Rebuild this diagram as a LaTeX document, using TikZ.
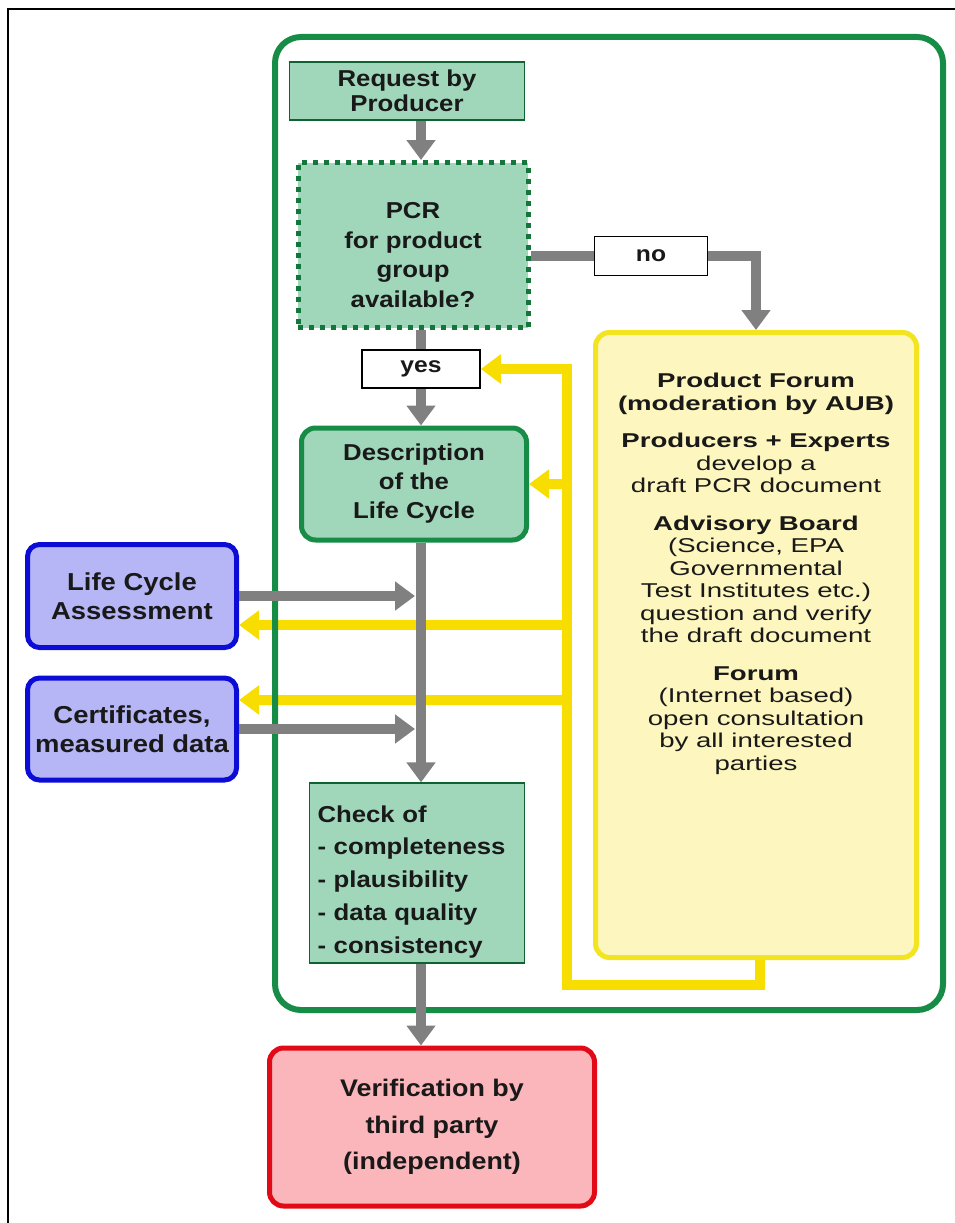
\documentclass[tikz,border=0pt]{standalone}
\usepackage{fontspec}
\setmainfont{Liberation Sans}
\newfontfamily\boxsans[FakeStretch=1.12]{Liberation Sans}
\newfontfamily\widesans[FakeStretch=1.38]{Liberation Sans}
\usetikzlibrary{arrows.meta, positioning}

\definecolor{frameGreen}{RGB}{22,140,70}
\definecolor{boxGreen}{RGB}{160,215,186}
\definecolor{lineGray}{RGB}{128,128,128}
\definecolor{lineYellow}{RGB}{248,222,0}
\definecolor{forumFill}{RGB}{253,246,190}
\definecolor{forumLine}{RGB}{242,228,30}
\definecolor{lcaBlue}{RGB}{12,12,215}
\definecolor{lcaFill}{RGB}{182,182,246}
\definecolor{verRed}{RGB}{226,10,22}
\definecolor{verFill}{RGB}{250,182,186}
\definecolor{inkText}{RGB}{25,25,25}

\tikzset{
  every node/.style={text=inkText, inner sep=0pt},
  flatbox/.style={draw=frameGreen!70!black, line width=1.2pt, fill=boxGreen, align=center,
    font=\boxsans\bfseries\fontsize{23}{25}\selectfont},
  dotbox/.style={flatbox, draw=frameGreen!85!black, line width=5pt, dash pattern=on 5pt off 6pt,
    font=\boxsans\bfseries\fontsize{23}{29.5}\selectfont},
  answer/.style={draw=black, line width=1.5pt, fill=white, font=\boxsans\bfseries\fontsize{22}{24}\selectfont},
  roundgreen/.style={flatbox, draw=frameGreen, line width=5pt, rounded corners=14pt,
    font=\boxsans\bfseries\fontsize{23}{29}\selectfont},
  inputbox/.style={draw=lcaBlue, line width=5pt, rounded corners=12pt, fill=lcaFill, align=center,
    minimum width=209pt, font=\boxsans\bfseries\fontsize{24.5}{28.5}\selectfont},
  verbox/.style={draw=verRed, line width=5pt, rounded corners=14pt, fill=verFill, align=center,
    font=\boxsans\bfseries\fontsize{24}{36.5}\selectfont},
  forumbox/.style={draw=forumLine, line width=5pt, rounded corners=14pt, fill=forumFill},
  forumtext/.style={align=center, font=\widesans\fontsize{20}{22.5}\selectfont},
  grayline/.style={draw=lineGray, line width=10pt},
  grayarrow/.style={grayline, -{Triangle[width=28pt,length=20pt]}},
  yelline/.style={draw=lineYellow, line width=10pt},
  yelarrow/.style={yelline, -{Triangle[width=28pt,length=20pt]}}
}

\begin{document}
\begin{tikzpicture}[x=1pt, y=-1pt]
\useasboundingbox (0,0) rectangle (955,1223);

% thin frame of the sheet (top and left only)
\draw[line width=1.5pt] (8,1223) -- (8,9) -- (955,9);

% main column
\node[flatbox, minimum width=235pt, minimum height=58pt] (req) at (407,91) {Request by\\Producer};
\node[dotbox, minimum width=230pt, minimum height=165pt] (pcr) at (413,245)
  {\rule{0pt}{36pt}PCR\\for product\\group\\available?};
\node[answer, minimum width=113pt, minimum height=39pt] (no) at (651,256) {no};
\node[answer, minimum width=118pt, minimum height=38pt] (yes) at (421,369) {yes};
\node[roundgreen, minimum width=225pt, minimum height=112pt] (desc) at (414,484) {Description\\of the\\Life Cycle};
\node[flatbox, minimum width=215pt, minimum height=180pt, text width=199pt, align=left,
  font=\boxsans\bfseries\fontsize{23}{32.7}\selectfont] (check) at (417,873)
  {\rule{0pt}{34pt}Check of\\- completeness\\- plausibility\\- data quality\\- consistency};
\node[verbox, minimum width=325pt, minimum height=158pt] (verif) at (432,1127) {Verification by\\third party\\(independent)};

% inputs on the left
\node[inputbox, minimum height=103pt] (lca) at (132,596) {Life Cycle\\Assessment};
\node[inputbox, minimum height=102pt] (cert) at (132,729) {Certificates,\\measured data};

% product forum
\node[forumbox, minimum width=321pt, minimum height=625pt] (forum) at (756,645) {};
\node[forumtext, below=43pt of forum.north] (forumtxt) {%
  \textbf{Product Forum}\\
  \textbf{(moderation by AUB)}\\[15pt]
  \textbf{Producers + Experts}\\
  develop a\\
  draft PCR document\\[15pt]
  \textbf{Advisory Board}\\
  (Science, EPA\\
  Governmental\\
  Test Institutes etc.)\\
  question and verify\\
  the draft document\\[15pt]
  \textbf{Forum}\\
  (Internet based)\\
  open consultation\\
  by all interested\\
  parties};

\coordinate (col) at (421,0);
\coordinate (busbot) at (567,985);
\path ([yshift=-29pt]lca.east) coordinate (lcaIn);
\path ([yshift=29pt]cert.east) coordinate (certIn);

% feedback from the forum
\draw[yelarrow] ([xshift=4pt]forum.south) |- (busbot) |- (yes.east);
\draw[yelarrow] (busbot |- desc.east) -- (desc.east);
\draw[yelarrow] (busbot |- lcaIn) -- (lcaIn);
\draw[yelarrow] (busbot |- certIn) -- (certIn);

% programme frame
\draw[frameGreen, line width=6pt, rounded corners=26pt] (275,37) rectangle (943,1010);

% main flow
\draw[grayarrow] (req.south -| col) -- (pcr.north -| col);
\draw[grayline] (pcr.south -| col) -- (yes.north -| col);
\draw[grayarrow] (yes.south -| col) -- (desc.north -| col);
\draw[grayarrow] (desc.south -| col) -- (check.north -| col);
\draw[grayarrow] (check.south -| col) -- (verif.north -| col);
\draw[grayline] (pcr.east |- no) -- (no.west);
\draw[grayarrow] (no.east) -| (forum.north);
\draw[grayarrow] (lca.east) -- ([xshift=-6pt]lca.east -| col);
\draw[grayarrow] (cert.east) -- ([xshift=-6pt]cert.east -| col);
\end{tikzpicture}
\end{document}
